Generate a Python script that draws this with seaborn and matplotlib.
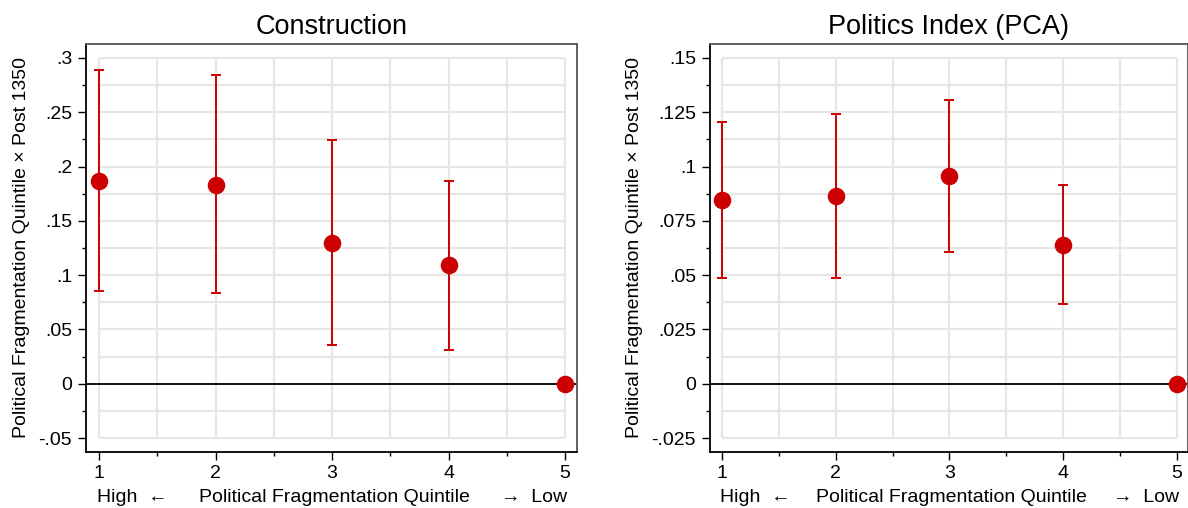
import numpy as np
import pandas as pd
import seaborn as sns
import matplotlib.pyplot as plt
import matplotlib.transforms as mtransforms

# data
quintile = [1, 2, 3, 4, 5]

construction_coef = [0.187, 0.183, 0.130, 0.109, 0.0]
construction_lo = [0.085, 0.084, 0.036, 0.031, 0.0]
construction_hi = [0.289, 0.284, 0.224, 0.187, 0.0]

politics_coef = [0.0844, 0.0865, 0.0957, 0.0641, 0.0]
politics_lo = [0.0486, 0.0487, 0.0608, 0.0366, 0.0]
politics_hi = [0.1205, 0.1243, 0.1305, 0.0917, 0.0]

titles = ["Construction", "Politics Index (PCA)"]
y_ticks_left = [-0.05, 0, 0.05, 0.1, 0.15, 0.2, 0.25, 0.3]
y_ticks_right = [-0.025, 0, 0.025, 0.05, 0.075, 0.1, 0.125, 0.15]

sns.set_theme(style="white")
plt.rcParams["font.family"] = ["Liberation Sans", "DejaVu Sans"]
plt.rcParams.update({"text.color": "black", "axes.labelcolor": "black",
                     "xtick.color": "black", "ytick.color": "black"})

RED = "#cc0000"
GRID = "#e6e6e6"
FS = 14


def fmt(v):
    if v == 0:
        return "0"
    s = f"{v:g}"
    return s.replace("0.", ".")


def panel(ax, title, coef, lo, hi, yticks, xlim):
    df = pd.DataFrame({"q": quintile, "coef": coef, "lo": lo, "hi": hi})
    step = yticks[1] - yticks[0]
    ymin, ymax = yticks[0], yticks[-1]
    pad = (ymax - ymin) * 12 / 329

    # plot-region grid (stata style, stops at the data region)
    xs = np.arange(1, 5.01, 0.5)
    ys = np.arange(ymin, ymax + step / 4, step / 2)
    ax.hlines(ys, 1, 5, color=GRID, lw=1.6, zorder=0)
    ax.vlines(xs, ymin, ymax, color=GRID, lw=1.6, zorder=0)
    ax.axhline(0, color="black", lw=1.3, zorder=1)

    ax.errorbar(df["q"], df["coef"],
                yerr=[df["coef"] - df["lo"], df["hi"] - df["coef"]],
                fmt="none", ecolor=RED, elinewidth=1.4, capsize=3.8,
                capthick=1.4, zorder=2)
    sns.scatterplot(data=df, x="q", y="coef", ax=ax, color=RED, s=160,
                    edgecolor=RED, linewidth=0, zorder=3)

    ax.set_xlim(*xlim)
    ax.set_ylim(ymin - pad, ymax + pad)
    ax.set_xticks(quintile)
    ax.set_xticks(xs, minor=True)
    ax.set_yticks(yticks)
    ax.set_yticks(ys, minor=True)
    ax.set_yticklabels([fmt(v) for v in yticks])
    ax.tick_params(axis="both", which="major", length=6, width=1,
                   labelsize=FS, color="black", direction="out",
                   left=True, bottom=True)
    ax.tick_params(axis="both", which="minor", length=3, width=1,
                   color="black", direction="out", left=True, bottom=True)
    ax.tick_params(axis="x", pad=3)
    ax.tick_params(axis="y", pad=4)
    for side in ["left", "bottom"]:
        ax.spines[side].set_color("black")
        ax.spines[side].set_linewidth(1.3)
    for side in ["top", "right"]:
        ax.spines[side].set_color("#555555")
        ax.spines[side].set_linewidth(1.3)

    ax.set_title(title, fontsize=19.5, pad=7)
    ax.set_xlabel("")
    ax.set_ylabel("Political Fragmentation Quintile \u00d7 Post 1350",
                  fontsize=FS, labelpad=6)

    trans = mtransforms.blended_transform_factory(ax.transData, ax.transAxes)
    ax.text(0.98, -0.09, "High  \u2190", transform=trans, ha="left",
            va="top", fontsize=FS)
    ax.text(3.02, -0.09, "Political Fragmentation Quintile", transform=trans,
            ha="center", va="top", fontsize=FS)
    ax.text(5.02, -0.09, "\u2192  Low", transform=trans, ha="right",
            va="top", fontsize=FS)


fig = plt.figure(figsize=(11.88, 5.08), dpi=100)
ax1 = fig.add_axes([86 / 1188, 1 - 452 / 508, 491 / 1188, 408 / 508])
ax2 = fig.add_axes([710 / 1188, 1 - 452 / 508, 478 / 1188, 408 / 508])

panel(ax1, titles[0], construction_coef, construction_lo, construction_hi,
      y_ticks_left, (0.888, 5.103))
panel(ax2, titles[1], politics_coef, politics_lo, politics_hi,
      y_ticks_right, (0.894, 5.1))

fig.savefig("out.png", dpi=100)
